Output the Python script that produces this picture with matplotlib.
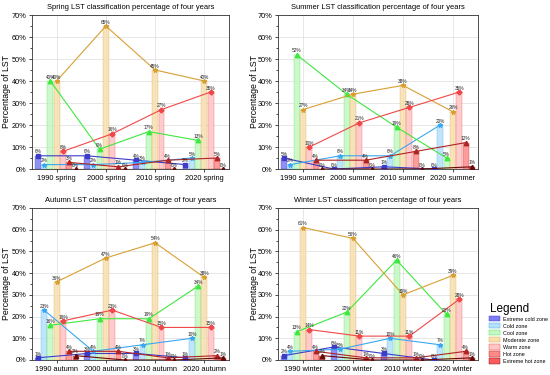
import matplotlib
matplotlib.use("Agg")
import matplotlib.pyplot as plt
import numpy as np
from matplotlib.patches import Patch
from matplotlib.ticker import MultipleLocator, FuncFormatter

plt.rcParams['font.family'] = ['Liberation Sans', 'DejaVu Sans']

zones = ["Extreme cold zone", "Cold zone", "Cool zone", "Moderate zone",
         "Warm zone", "Hot zone", "Extreme hot zone"]
years = ["1990", "2000", "2010", "2020"]
seasons = ["spring", "summer", "autumn", "winter"]

# rows: zones, columns: years
spring = [[6, 6, 4, 2],
          [2, 2, 3, 5],
          [40, 9, 17, 13],
          [40, 65, 45, 40],
          [8, 16, 27, 35],
          [3, 1, 4, 5],
          [0, 0, 0, 0]]
summer = [[5, 0, 1, 0],
          [2, 6, 6, 20],
          [52, 34, 19, 5],
          [27, 34, 38, 26],
          [10, 21, 28, 35],
          [4, 4, 8, 12],
          [0, 0, 0, 1]]
autumn = [[1, 3, 3, 1],
          [23, 4, 7, 10],
          [16, 19, 19, 34],
          [36, 47, 54, 38],
          [18, 23, 15, 15],
          [4, 4, 1, 2],
          [2, 0, 0, 1]]
winter = [[2, 6, 3, 0],
          [4, 5, 10, 7],
          [13, 22, 46, 21],
          [61, 56, 30, 39],
          [14, 11, 11, 28],
          [4, 1, 1, 4],
          [2, 0, 0, 1]]
data = {"spring": spring, "summer": summer, "autumn": autumn, "winter": winter}
titles = {s: f"{s.capitalize()} LST classification percentage of four years" for s in seasons}

bar_colors = ["#7b7bf5", "#b5e0fb", "#c4f7c4", "#f7dfb0", "#ffc4c4", "#ff8a8a", "#ff5a5a"]
line_colors = ["#3c3cc8", "#3aa8f0", "#3ee83e", "#d8a032", "#f04848", "#b02424", "#6a0a0a"]
markers = ["s", "*", "^", "*", "P", "^", "^"]

fig = plt.figure(figsize=(5.5, 3.75), dpi=100)
W, H = 550, 375
boxes = {"spring": (32, 15, 229, 169), "summer": (278, 15, 478, 169),
         "autumn": (32, 208, 229, 360), "winter": (278, 208, 478, 360)}

x = np.arange(len(years))
step = 0.128
width = 0.118

for s in seasons:
    l, t, r, b = boxes[s]
    ax = fig.add_axes([l / W, 1 - b / H, (r - l) / W, (b - t) / H])
    vals = np.array(data[s], dtype=float)
    for i in range(len(zones)):
        xi = x + (i - 3) * step
        ax.bar(xi, vals[i], width=width, color=bar_colors[i], alpha=0.85,
               edgecolor=line_colors[i], linewidth=0.25, zorder=2)
    for i in range(len(zones)):
        xi = x + (i - 3) * step
        ax.plot(xi, vals[i], color=line_colors[i], lw=0.8, marker=markers[i],
                ms=3.2, mec=line_colors[i], mfc=line_colors[i], zorder=4)
        for xx, v in zip(xi, vals[i]):
            ax.text(xx, v + 0.6, f"{v:.0f}%", fontsize=3.4, ha="center",
                    va="bottom", color="#222222", zorder=5)
    ax.set_xlim(-0.5, 3.5)
    ax.set_ylim(0, 70)
    ax.set_xticks(x)
    ax.set_xticklabels([f"{y} {s}" for y in years], fontsize=5.3)
    ax.yaxis.set_major_locator(MultipleLocator(10))
    ax.yaxis.set_minor_locator(MultipleLocator(5))
    ax.yaxis.set_major_formatter(FuncFormatter(lambda v, p: f"{v:.0f}%"))
    ax.tick_params(axis="y", labelsize=5.3, length=2.5, width=0.5, pad=1.5)
    ax.tick_params(axis="y", which="minor", length=1.5, width=0.5)
    ax.tick_params(axis="x", length=2.5, width=0.5, pad=1.5)
    ax.grid(True, color="#dddddd", lw=0.5, zorder=0)
    ax.set_axisbelow(True)
    for sp in ax.spines.values():
        sp.set_linewidth(0.6)
        sp.set_color("#333333")
    ax.set_title(titles[s], fontsize=5.4, pad=4)
    ax.set_ylabel("Percentage of LST", fontsize=6.3)
    lab_x = 11 if l < 100 else 259
    ax.yaxis.set_label_coords((lab_x - l) / (r - l), 0.5)

handles = [Patch(facecolor=c, edgecolor=lc, lw=0.3) for c, lc in zip(bar_colors, line_colors)]
fig.text(490 / W, 1 - 309 / H, "Legend", fontsize=8.5, va="center", ha="left")
leg = fig.legend(handles, zones, loc="upper left", bbox_to_anchor=(488 / W, 1 - 315 / H),
                 fontsize=3.9, frameon=False, handlelength=2.1, handleheight=1.1,
                 labelspacing=0.3, handletextpad=0.4, borderaxespad=0,
                 borderpad=0.2)

fig.savefig("out.png", dpi=100)
